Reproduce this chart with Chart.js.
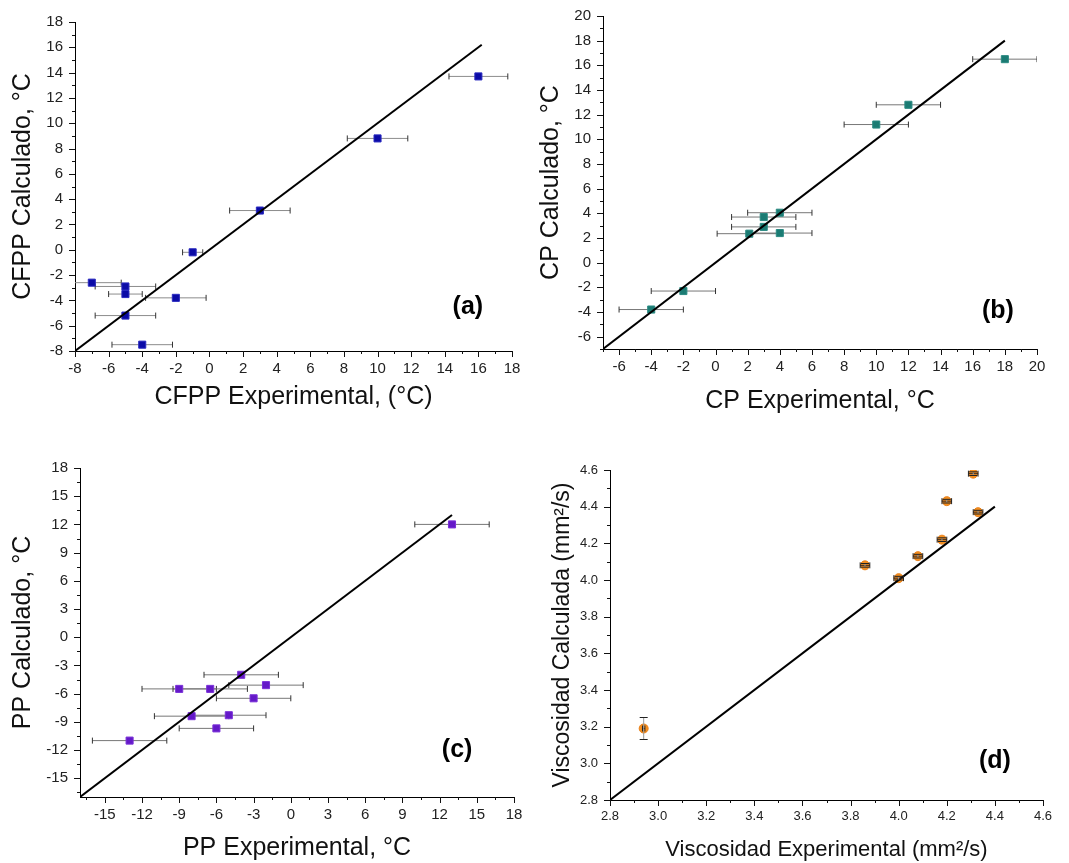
<!DOCTYPE html>
<html>
<head>
<meta charset="utf-8">
<title>Calculado vs Experimental</title>
<script src="https://cdn.jsdelivr.net/npm/chart.js@4.4.1/dist/chart.umd.min.js"></script>
<style>
  html, body { margin: 0; padding: 0; background: #fff; }
  #wrap { position: relative; width: 1069px; height: 863px; }
  .panel { position: absolute; }
</style>
</head>
<body>
<div id="wrap">
  <div class="panel" style="left:0;top:0;width:530px;height:420px"><canvas id="chartA"></canvas></div>
  <div class="panel" style="left:530px;top:0;width:539px;height:420px"><canvas id="chartB"></canvas></div>
  <div class="panel" style="left:0;top:420px;width:530px;height:443px"><canvas id="chartC"></canvas></div>
  <div class="panel" style="left:530px;top:420px;width:539px;height:443px"><canvas id="chartD"></canvas></div>
</div>
<script>
// (a) CFPP
const cfppExp  = [16, 10, 3, -1, -7, -5, -5, -2, -5, -4];
const cfppCalc = [13.7, 8.8, 3.1, -0.2, -2.6, -2.9, -3.5, -3.8, -5.2, -7.5];
const cfppErr  = [1.75, 1.8, 1.8, 0.6, 1.75, 1.8, 1.0, 1.8, 1.8, 1.8];
const cfppDiag = [-8, 16.2];

// (b) CP
const cpExp  = [18, 12, 10, 4, 3, 3, 2.1, 4, -2, -4];
const cpCalc = [16.5, 12.8, 11.2, 4.05, 3.7, 2.9, 2.35, 2.4, -2.3, -3.8];
const cpErr  = [2, 2, 2, 2, 2, 2, 2, 2, 2, 2];
const cpDiag = [-7, 18];

// (c) PP
const ppExp  = [13, -4, -2, -9, -6.5, -3, -8, -5, -6, -13];
const ppCalc = [12, -4, -5.1, -5.5, -5.5, -6.5, -8.4, -8.3, -9.7, -11];
const ppErr  = [3, 3, 3, 3, 3, 3, 3, 3, 3, 3];
const ppDiag = [-17, 13];

// (d) Viscosidad
const viscExp  = [2.94, 3.86, 4.00, 4.08, 4.18, 4.20, 4.31, 4.33];
const viscCalc = [3.19, 4.08, 4.01, 4.13, 4.22, 4.43, 4.58, 4.37];
const viscErrX = [0.005, 0.02, 0.02, 0.02, 0.02, 0.02, 0.02, 0.02];
const viscErrY = [0.06, 0.01, 0.01, 0.01, 0.01, 0.01, 0.01, 0.01];
const viscDiag = [2.8, 4.4];

const FAMILIA = "'Liberation Sans', Arial, sans-serif";

// ticks mayores y menores estilo Origin (hacia afuera)
const ejesOrigin = {
  id: 'ejesOrigin',
  afterDraw(chart, args, opts) {
    const ctx = chart.ctx;
    ctx.save();
    ctx.strokeStyle = '#111';
    ctx.lineWidth = 1;
    ['x', 'y'].forEach(function(id) {
      const s = chart.scales[id];
      const menor = opts.menor, mayor = opts.mayor;
      const k0 = Math.ceil(s.min / menor - 1e-6), k1 = Math.floor(s.max / menor + 1e-6);
      for (let k = k0; k <= k1; k++) {
        const v = k * menor;
        const esMayor = Math.abs(v / mayor - Math.round(v / mayor)) < 1e-6;
        const largo = esMayor ? 6 : 3;
        const p = Math.round(s.getPixelForValue(v)) + 0.5;
        ctx.beginPath();
        if (id === 'x') {
          ctx.moveTo(p, s.top);
          ctx.lineTo(p, s.top + largo);
        } else {
          ctx.moveTo(s.right - largo, p);
          ctx.lineTo(s.right, p);
        }
        ctx.stroke();
      }
    });
    ctx.restore();
  }
};

function dibujarErrores(chart, opts) {
  const ctx = chart.ctx;
  const area = chart.chartArea;
  const xs = chart.scales.x, ys = chart.scales.y;
  ctx.save();
  ctx.beginPath();
  ctx.rect(area.left, area.top, area.right - area.left, area.bottom - area.top);
  ctx.clip();
  ctx.lineWidth = 1;
  chart.data.datasets.forEach(function(ds) {
    if (!ds.errX && !ds.errY) return;
    ds.data.forEach(function(p, j) {
      const px = xs.getPixelForValue(p.x);
      const py = ys.getPixelForValue(p.y);
      if (ds.errX && ds.errX[j]) {
        const x1 = xs.getPixelForValue(p.x - ds.errX[j]);
        const x2 = xs.getPixelForValue(p.x + ds.errX[j]);
        ctx.strokeStyle = opts.colorBarra;
        ctx.beginPath(); ctx.moveTo(x1, py); ctx.lineTo(x2, py); ctx.stroke();
        ctx.strokeStyle = opts.colorTope;
        ctx.beginPath();
        ctx.moveTo(x1, py - 3); ctx.lineTo(x1, py + 3);
        ctx.moveTo(x2, py - 3); ctx.lineTo(x2, py + 3);
        ctx.stroke();
      }
      if (ds.errY && ds.errY[j]) {
        const y1 = ys.getPixelForValue(p.y - ds.errY[j]);
        const y2 = ys.getPixelForValue(p.y + ds.errY[j]);
        ctx.strokeStyle = opts.colorBarraY || opts.colorBarra;
        ctx.beginPath(); ctx.moveTo(px, y1); ctx.lineTo(px, y2); ctx.stroke();
        ctx.strokeStyle = opts.colorTope;
        ctx.beginPath();
        ctx.moveTo(px - 4, y1); ctx.lineTo(px + 4, y1);
        ctx.moveTo(px - 4, y2); ctx.lineTo(px + 4, y2);
        ctx.stroke();
      }
    });
  });
  ctx.restore();
}

const barrasError = {
  id: 'barrasError',
  beforeDatasetsDraw(chart, args, opts) {
    if (!opts.encima) dibujarErrores(chart, opts);
  },
  afterDatasetsDraw(chart, args, opts) {
    if (opts.encima) dibujarErrores(chart, opts);
  }
};

const etiquetaPanel = {
  id: 'etiquetaPanel',
  afterDraw(chart, args, opts) {
    const a = chart.chartArea;
    const ctx = chart.ctx;
    ctx.save();
    ctx.font = 'bold 25px ' + FAMILIA;
    ctx.fillStyle = '#000';
    ctx.textAlign = 'center';
    ctx.textBaseline = 'middle';
    ctx.fillText(opts.texto, a.left + opts.fx * (a.right - a.left), a.top + opts.fy * (a.bottom - a.top));
    ctx.restore();
  }
};

function puntos(xs, ys) {
  return xs.map(function(x, i) { return { x: x, y: ys[i] }; });
}

function crearPanel(id, cfg) {
  const ctx = document.getElementById(id).getContext('2d');
  const etiquetas = function(v) { return cfg.decimales ? v.toFixed(cfg.decimales) : String(v); };
  return new Chart(ctx, {
    type: 'scatter',
    data: {
      datasets: [
        {
          data: puntos(cfg.x, cfg.y),
          errX: cfg.errX,
          errY: cfg.errY,
          backgroundColor: cfg.color,
          borderColor: cfg.borde,
          borderWidth: 1,
          pointStyle: cfg.forma,
          pointRadius: cfg.radio,
          order: 1
        },
        {
          data: puntos(cfg.diag, cfg.diag),
          showLine: true,
          borderColor: '#000',
          borderWidth: 2,
          pointRadius: 0,
          order: 0
        }
      ]
    },
    options: {
      responsive: true,
      maintainAspectRatio: false,
      animation: false,
      events: [],
      layout: { padding: { left: 0, top: cfg.arriba, right: cfg.derecha, bottom: 0 } },
      plugins: {
        legend: { display: false },
        tooltip: { enabled: false },
        ejesOrigin: { mayor: cfg.paso, menor: cfg.menor },
        barrasError: { encima: cfg.errEncima, colorBarra: cfg.colorBarra, colorTope: cfg.colorTope, colorBarraY: cfg.colorBarraY },
        etiquetaPanel: { texto: cfg.etiqueta, fx: cfg.fx, fy: cfg.fy }
      },
      scales: {
        x: {
          type: 'linear',
          min: cfg.min,
          max: cfg.max,
          afterFit: function(s) { s.height = cfg.altoX; },
          grid: { display: false, drawTicks: true, tickLength: 6 },
          border: { display: true, color: '#000', width: 1 },
          ticks: {
            stepSize: cfg.paso,
            includeBounds: false,
            autoSkip: false,
            maxRotation: 0,
            padding: 3,
            color: '#222',
            font: { size: cfg.fuenteTick, family: FAMILIA },
            callback: etiquetas
          },
          title: {
            display: true,
            text: cfg.tituloX,
            color: '#111',
            font: { size: cfg.fuenteTitulo, family: FAMILIA },
            padding: { top: 0, bottom: cfg.pbX }
          }
        },
        y: {
          type: 'linear',
          min: cfg.min,
          max: cfg.max,
          afterFit: function(s) { s.width = cfg.anchoY; },
          grid: { display: false, drawTicks: true, tickLength: 6 },
          border: { display: true, color: '#000', width: 1 },
          ticks: {
            stepSize: cfg.paso,
            includeBounds: false,
            autoSkip: false,
            padding: 6,
            color: '#222',
            font: { size: cfg.fuenteTick, family: FAMILIA },
            callback: etiquetas
          },
          title: {
            display: true,
            text: cfg.tituloY,
            color: '#111',
            font: { size: cfg.fuenteTituloY || cfg.fuenteTitulo, family: FAMILIA },
            padding: { top: cfg.ptY, bottom: 0 }
          }
        }
      }
    },
    plugins: [ejesOrigin, barrasError, etiquetaPanel]
  });
}

crearPanel('chartA', {
  x: cfppExp, y: cfppCalc, errX: cfppErr, diag: cfppDiag,
  min: -8, max: 18, paso: 2, menor: 1,
  color: '#0b0ba6', borde: '#2a2ac0', forma: 'rect', radio: 5,
  colorBarra: '#8c8c8c', colorTope: '#333', errEncima: false,
  tituloX: 'CFPP Experimental, (°C)', tituloY: 'CFPP Calculado, °C',
  fuenteTick: 15, fuenteTitulo: 25, pbX: 8, ptY: 8,
  anchoY: 75, altoX: 69, arriba: 22, derecha: 18,
  etiqueta: '(a)', fx: 0.899, fy: 0.866
});

crearPanel('chartB', {
  x: cpExp, y: cpCalc, errX: cpErr, diag: cpDiag,
  min: -7, max: 20, paso: 2, menor: 1,
  color: '#1b7b73', borde: '#2b8a82', forma: 'rect', radio: 5,
  colorBarra: '#777', colorTope: '#333', errEncima: false,
  tituloX: 'CP Experimental, °C', tituloY: 'CP Calculado, °C',
  fuenteTick: 15, fuenteTitulo: 25, pbX: 4, ptY: 6,
  anchoY: 73, altoX: 71, arriba: 16, derecha: 32,
  etiqueta: '(b)', fx: 0.91, fy: 0.886
});

crearPanel('chartC', {
  x: ppExp, y: ppCalc, errX: ppErr, diag: ppDiag,
  min: -17, max: 18, paso: 3, menor: 1.5,
  color: '#6419c8', borde: '#7a30d8', forma: 'rect', radio: 5,
  colorBarra: '#777', colorTope: '#333', errEncima: false,
  tituloX: 'PP Experimental, °C', tituloY: 'PP Calculado, °C',
  fuenteTick: 15, fuenteTitulo: 25, pbX: 0, ptY: 8,
  anchoY: 80, altoX: 66, arriba: 48, derecha: 16,
  etiqueta: '(c)', fx: 0.869, fy: 0.857
});

crearPanel('chartD', {
  x: viscExp, y: viscCalc, errX: viscErrX, errY: viscErrY, diag: viscDiag,
  min: 2.8, max: 4.6, paso: 0.2, menor: 0.1, decimales: 1,
  color: '#f7901e', borde: '#e8801a', forma: 'circle', radio: 4.5,
  colorBarra: '#3a2a20', colorTope: '#222', colorBarraY: '#999', errEncima: true,
  tituloX: 'Viscosidad Experimental (mm²/s)', tituloY: 'Viscosidad Calculada (mm²/s)',
  fuenteTick: 13, fuenteTitulo: 22, fuenteTituloY: 23, pbX: 0, ptY: 19,
  anchoY: 80, altoX: 63, arriba: 50, derecha: 26,
  etiqueta: '(d)', fx: 0.889, fy: 0.882
});
</script>
</body>
</html>
